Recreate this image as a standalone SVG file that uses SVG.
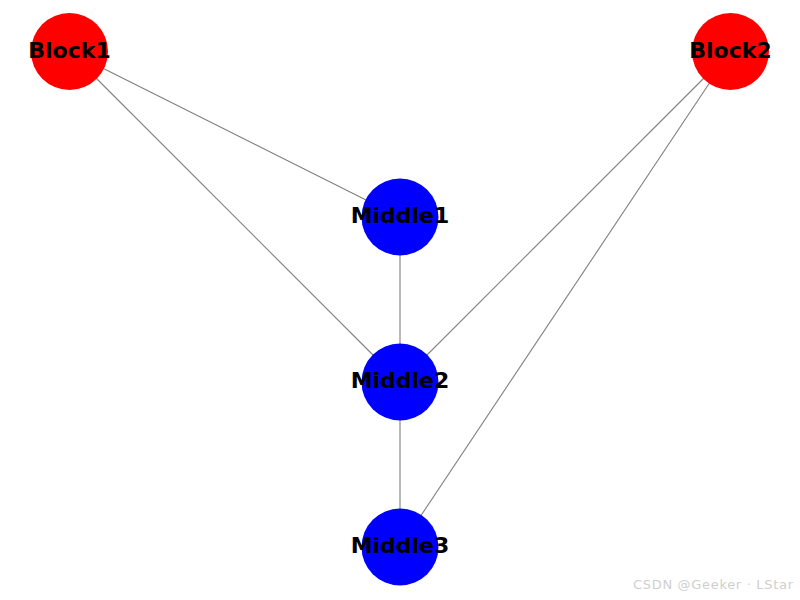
<svg xmlns="http://www.w3.org/2000/svg" width="800" height="600" viewBox="0 0 800 600">
<style>
.e{stroke:#808080;stroke-width:1.1;fill:none}
.r{fill:#ff0000}
.b{fill:#0000ff}
.t{font-family:"DejaVu Sans",sans-serif;font-weight:bold;font-size:22px;fill:#000;text-anchor:middle;dominant-baseline:central}
.w{font-family:"DejaVu Sans",sans-serif;font-size:13px;fill:#cfcfcf}
</style>
<rect width="800" height="600" fill="#fff"/>
<g id="edges">
<line class="e" x1="69.5" y1="51.5" x2="400" y2="217"/>
<line class="e" x1="69.5" y1="51.5" x2="400" y2="382"/>
<line class="e" x1="730.5" y1="51.5" x2="400" y2="382"/>
<line class="e" x1="730.5" y1="51.5" x2="400" y2="547"/>
<line class="e" x1="400" y1="217" x2="400" y2="382"/>
<line class="e" x1="400" y1="382" x2="400" y2="547"/>
</g>
<g id="Block1"><circle class="r" cx="69.5" cy="51.5" r="38.5"/><text class="t" x="69.5" y="50">Block1</text></g>
<g id="Block2"><circle class="r" cx="730.5" cy="51.5" r="38.5"/><text class="t" x="730.5" y="50">Block2</text></g>
<g id="Middle1"><circle class="b" cx="400" cy="217" r="38.5"/><text class="t" x="400" y="215.5">Middle1</text></g>
<g id="Middle2"><circle class="b" cx="400" cy="382" r="38.5"/><text class="t" x="400" y="380.5">Middle2</text></g>
<g id="Middle3"><circle class="b" cx="400" cy="547" r="38.5"/><text class="t" x="400" y="545.5">Middle3</text></g>
<text class="w" x="633" y="589" textLength="160" lengthAdjust="spacing">CSDN @Geeker · LStar</text>
</svg>
